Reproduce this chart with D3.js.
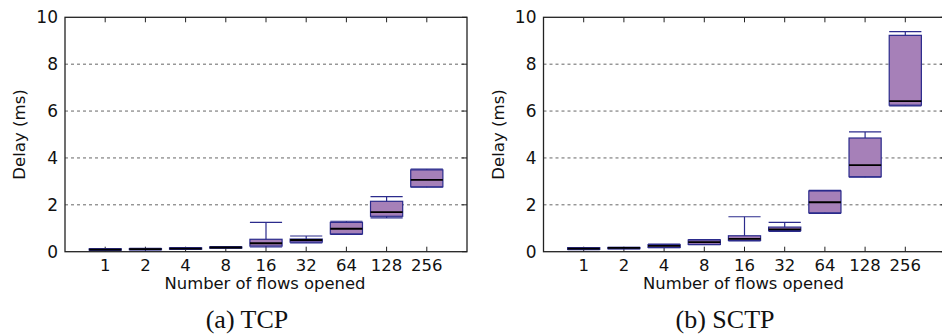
<!DOCTYPE html>
<html>
<head>
<meta charset="utf-8">
<script src="https://cdn.jsdelivr.net/npm/d3@7"></script>
<style>
  body { margin: 0; background: #fff; }
  svg { display: block; }
  text { font-family: "DejaVu Sans", sans-serif; fill: #111; }
  .caption { font-family: "Liberation Serif", "DejaVu Serif", serif; }
</style>
</head>
<body>
<svg id="chart" width="942" height="336"></svg>
<script>
// categories (number of flows opened)
const flows = ["1", "2", "4", "8", "16", "32", "64", "128", "256"];
const yTicks = [0, 2, 4, 6, 8, 10];

// TCP delay (ms): whisker low, q1, median, q3, whisker high
const tcpLow  = [0.06, 0.08, 0.10, 0.15, 0.20, 0.38, 0.74, 1.44, 2.75];
const tcpQ1   = [0.07, 0.09, 0.11, 0.16, 0.24, 0.41, 0.76, 1.51, 2.77];
const tcpMed  = [0.09, 0.11, 0.13, 0.18, 0.36, 0.50, 0.98, 1.69, 3.06];
const tcpQ3   = [0.12, 0.13, 0.16, 0.20, 0.53, 0.54, 1.25, 2.15, 3.49];
const tcpHigh = [0.13, 0.14, 0.17, 0.22, 1.25, 0.67, 1.30, 2.35, 3.52];

// SCTP delay (ms)
const sctpLow  = [0.09, 0.12, 0.17, 0.30, 0.46, 0.87, 1.63, 3.18, 6.22];
const sctpQ1   = [0.10, 0.13, 0.18, 0.31, 0.48, 0.90, 1.66, 3.20, 6.25];
const sctpMed  = [0.13, 0.16, 0.25, 0.41, 0.55, 0.95, 2.11, 3.69, 6.42];
const sctpQ3   = [0.17, 0.18, 0.30, 0.50, 0.68, 1.05, 2.59, 4.85, 9.23];
const sctpHigh = [0.18, 0.19, 0.32, 0.52, 1.49, 1.25, 2.62, 5.11, 9.39];

const svg = d3.select("#chart");

function drawPanel(x0, low, q1, med, q3, high, caption, capX) {
    let w = 402, top = 17.3, bottom = 251.7;
    let g = svg.append("g").attr("transform", "translate(" + x0 + ",0)");

    let x = d3.scaleLinear().domain([0, flows.length + 1]).range([0, w]);
    let y = d3.scaleLinear().domain([0, 10]).range([bottom, top]);
    let bw = (x(1) - x(0)) * 0.8;
    let boxColor = "#2b2b8c";

    // dashed grid
    g.selectAll(".grid").data(yTicks.slice(1, -1)).enter().append("line")
        .attr("x1", 0).attr("x2", w)
        .attr("y1", d => y(d)).attr("y2", d => y(d))
        .attr("stroke", "#666").attr("stroke-width", 1)
        .attr("stroke-dasharray", "3,3");

    // right-side ticks
    g.selectAll(".rtick").data(yTicks).enter().append("line")
        .attr("x1", w - 5).attr("x2", w)
        .attr("y1", d => y(d)).attr("y2", d => y(d))
        .attr("stroke", "#222");

    // x ticks top and bottom (inward)
    flows.forEach((f, i) => {
        g.append("line").attr("x1", x(i + 1)).attr("x2", x(i + 1))
            .attr("y1", bottom).attr("y2", bottom - 5).attr("stroke", "#222");
        g.append("line").attr("x1", x(i + 1)).attr("x2", x(i + 1))
            .attr("y1", top).attr("y2", top + 5).attr("stroke", "#222");
    });

    // boxes
    let boxes = g.selectAll(".box").data(flows).enter().append("g");
    boxes.append("line")
        .attr("x1", (d, i) => x(i + 1)).attr("x2", (d, i) => x(i + 1))
        .attr("y1", (d, i) => y(high[i])).attr("y2", (d, i) => y(low[i]))
        .attr("stroke", boxColor).attr("stroke-width", 1.2);
    boxes.append("line")
        .attr("x1", (d, i) => x(i + 1) - bw / 2).attr("x2", (d, i) => x(i + 1) + bw / 2)
        .attr("y1", (d, i) => y(high[i])).attr("y2", (d, i) => y(high[i]))
        .attr("stroke", boxColor).attr("stroke-width", 1.2);
    boxes.append("line")
        .attr("x1", (d, i) => x(i + 1) - bw / 2).attr("x2", (d, i) => x(i + 1) + bw / 2)
        .attr("y1", (d, i) => y(low[i])).attr("y2", (d, i) => y(low[i]))
        .attr("stroke", boxColor).attr("stroke-width", 1.2);
    boxes.append("rect")
        .attr("x", (d, i) => x(i + 1) - bw / 2).attr("width", bw)
        .attr("y", (d, i) => y(q3[i]))
        .attr("height", (d, i) => Math.max(1, y(q1[i]) - y(q3[i])))
        .attr("fill", "#a680b8").attr("stroke", boxColor).attr("stroke-width", 1.2);
    boxes.append("line")
        .attr("x1", (d, i) => x(i + 1) - bw / 2).attr("x2", (d, i) => x(i + 1) + bw / 2)
        .attr("y1", (d, i) => y(med[i])).attr("y2", (d, i) => y(med[i]))
        .attr("stroke", "#000").attr("stroke-width", 1.8);

    // frame
    g.append("rect").attr("x", 0).attr("y", top).attr("width", w).attr("height", bottom - top)
        .attr("fill", "none").attr("stroke", "#222").attr("stroke-width", 1.3);

    // tick labels
    g.selectAll(".ylab").data(yTicks).enter().append("text")
        .attr("x", -7).attr("y", d => y(d) + 6)
        .attr("text-anchor", "end").attr("font-size", 17)
        .text(d => d);
    g.selectAll(".xlab").data(flows).enter().append("text")
        .attr("x", (d, i) => x(i + 1)).attr("y", 270.5)
        .attr("text-anchor", "middle").attr("font-size", 16.5)
        .text(d => d);

    // axis titles
    g.append("text").attr("x", w / 2 - 1).attr("y", 289)
        .attr("text-anchor", "middle").attr("font-size", 16.4)
        .text("Number of flows opened");
    g.append("text")
        .attr("transform", "translate(-40," + ((top + bottom) / 2) + ") rotate(-90)")
        .attr("text-anchor", "middle").attr("font-size", 16.6)
        .text("Delay (ms)");

    svg.append("text").attr("class", "caption")
        .attr("x", capX).attr("y", 328)
        .attr("text-anchor", "middle").attr("font-size", 26)
        .text(caption);
}

drawPanel(65, tcpLow, tcpQ1, tcpMed, tcpQ3, tcpHigh, "(a) TCP", 247);
drawPanel(543.5, sctpLow, sctpQ1, sctpMed, sctpQ3, sctpHigh, "(b) SCTP", 725);
</script>
</body>
</html>
